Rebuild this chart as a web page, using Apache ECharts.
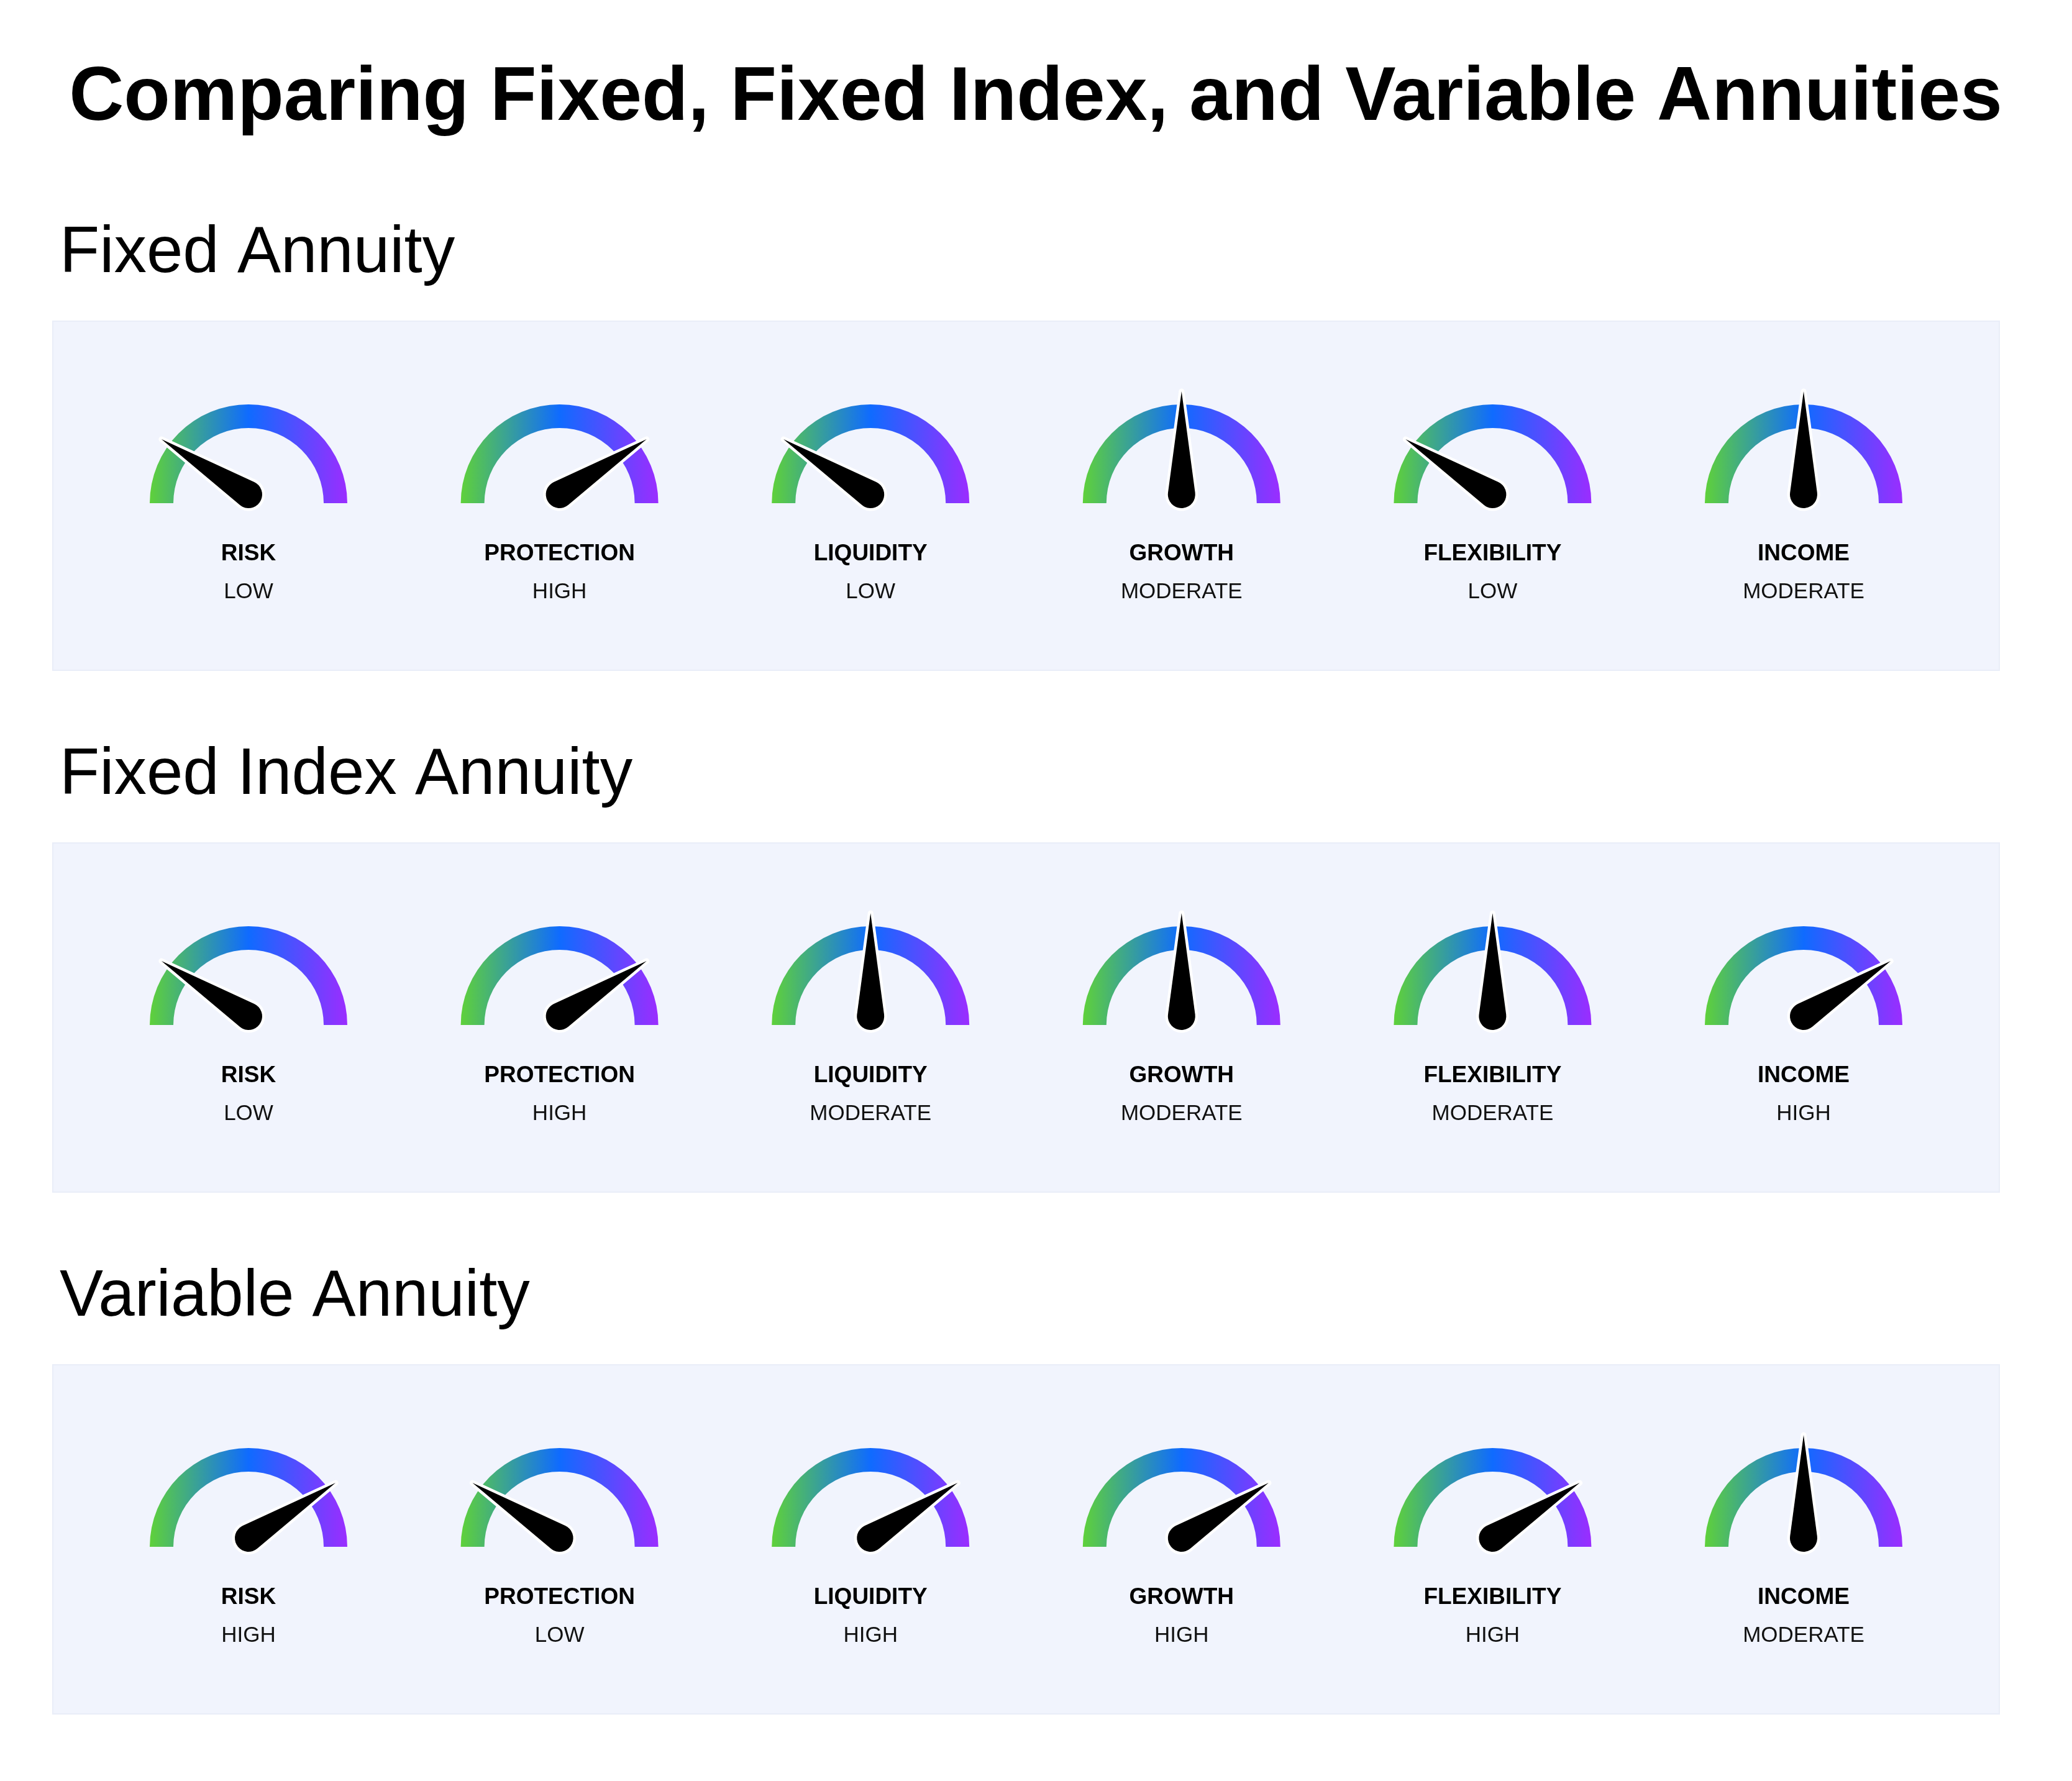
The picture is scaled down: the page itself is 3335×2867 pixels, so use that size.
<!DOCTYPE html>
<html>
<head>
<meta charset="utf-8">
<script src="https://cdn.jsdelivr.net/npm/echarts@6/dist/echarts.min.js"></script>
<style>
  html, body { margin: 0; padding: 0; background: #ffffff; }
  #chart { width: 3335px; height: 2867px; }
</style>
</head>
<body>
<div id="chart"></div>
<script>
// ---------------- DATA ----------------
const chartTitle = 'Comparing Fixed, Fixed Index, and Variable Annuities';
const annuityTypes = ['Fixed Annuity', 'Fixed Index Annuity', 'Variable Annuity'];
const metrics = ['RISK', 'PROTECTION', 'LIQUIDITY', 'GROWTH', 'FLEXIBILITY', 'INCOME'];
const fixedLevels = ['LOW', 'HIGH', 'LOW', 'MODERATE', 'LOW', 'MODERATE'];
const fixedIndexLevels = ['LOW', 'HIGH', 'MODERATE', 'MODERATE', 'MODERATE', 'HIGH'];
const variableLevels = ['HIGH', 'LOW', 'HIGH', 'HIGH', 'HIGH', 'MODERATE'];
// needle position of each level on a 0–100 dial
const levelValues = { LOW: 18, MODERATE: 50, HIGH: 82 };

// ---------------- LAYOUT ----------------
const FONT = "'Liberation Sans', Arial, Helvetica, sans-serif";
const X0 = 400, DX = 500.6;      // gauge column centres
const Y0 = 810, DY = 840;        // gauge row centres (arc baseline)
const PANEL_X = 85, PANEL_Y0 = 517, PANEL_W = 3133, PANEL_H = 562;
const R_OUT = 159, ARC_W = 38;
const PIVOT_UP = 14;
// needle outline: tip at top, round base of radius 22, total height 188
const NEEDLE = 'path://M22,0 L43.81,163.08 A22,22 0 1,1 0.19,163.08 Z';

const chart = echarts.init(document.getElementById('chart'), null, { renderer: 'canvas' });

function grad() {
  return new echarts.graphic.LinearGradient(0, 0, 1, 0, [
    { offset: 0, color: '#5fd13a' },
    { offset: 0.5, color: '#0f6bff' },
    { offset: 1, color: '#9b2dff' }
  ]);
}

const rows = [fixedLevels, fixedIndexLevels, variableLevels];
const series = [];
const graphics = [];

graphics.push({
  type: 'text', x: 1667, y: 159, z: 10,
  style: { text: chartTitle, font: 'bold 122px ' + FONT, fill: '#000', align: 'center', verticalAlign: 'middle' }
});

annuityTypes.forEach((name, r) => {
  graphics.push({
    type: 'rect', z: 0,
    shape: { x: PANEL_X, y: PANEL_Y0 + r * DY, width: PANEL_W, height: PANEL_H },
    style: { fill: '#f1f4fd', stroke: '#e9edf8', lineWidth: 2 }
  });
  graphics.push({
    type: 'text', x: 96, y: 409 + r * DY, z: 10,
    style: { text: name, font: 'normal 105px ' + FONT, fill: '#000', align: 'left', verticalAlign: 'middle' }
  });
});

const common = {
  type: 'gauge', startAngle: 180, endAngle: 0, min: 0, max: 100, radius: R_OUT,
  splitLine: { show: false }, axisTick: { show: false }, axisLabel: { show: false },
  anchor: { show: false }, progress: { show: false }, animation: false, silent: true
};

rows.forEach((levels, r) => {
  metrics.forEach((m, c) => {
    const cx = X0 + c * DX, cy = Y0 + r * DY;
    const lvl = levels[c];
    const v = levelValues[lvl];
    series.push(Object.assign({}, common, {
      center: [cx, cy], z: 2,
      axisLine: { show: true, roundCap: false, lineStyle: { width: ARC_W, color: [[1, grad()]] } },
      pointer: { show: false },
      title: { show: true, offsetCenter: [0, 82], fontSize: 37, fontWeight: 'bold', fontFamily: FONT, color: '#000' },
      detail: { show: true, offsetCenter: [0, 143], fontSize: 35, fontWeight: 'normal', fontFamily: FONT, color: '#111',
                valueAnimation: false, formatter: () => lvl },
      data: [{ value: v, name: m }]
    }));
    series.push(Object.assign({}, common, {
      center: [cx, cy - PIVOT_UP], z: 3,
      axisLine: { show: false },
      pointer: { show: true, icon: NEEDLE, length: 188, width: 44, offsetCenter: [0, 22], keepAspect: false,
                 itemStyle: { color: '#ffffff', borderColor: '#ffffff', borderWidth: 9, borderJoin: 'round' } },
      title: { show: false }, detail: { show: false },
      data: [{ value: v }]
    }));
    series.push(Object.assign({}, common, {
      center: [cx, cy - PIVOT_UP], z: 4,
      axisLine: { show: false },
      pointer: { show: true, icon: NEEDLE, length: 188, width: 44, offsetCenter: [0, 22], keepAspect: false,
                 itemStyle: { color: '#000000' } },
      title: { show: false }, detail: { show: false },
      data: [{ value: v }]
    }));
  });
});

chart.setOption({
  backgroundColor: '#ffffff',
  animation: false,
  graphic: graphics,
  series: series
});
</script>
</body>
</html>
